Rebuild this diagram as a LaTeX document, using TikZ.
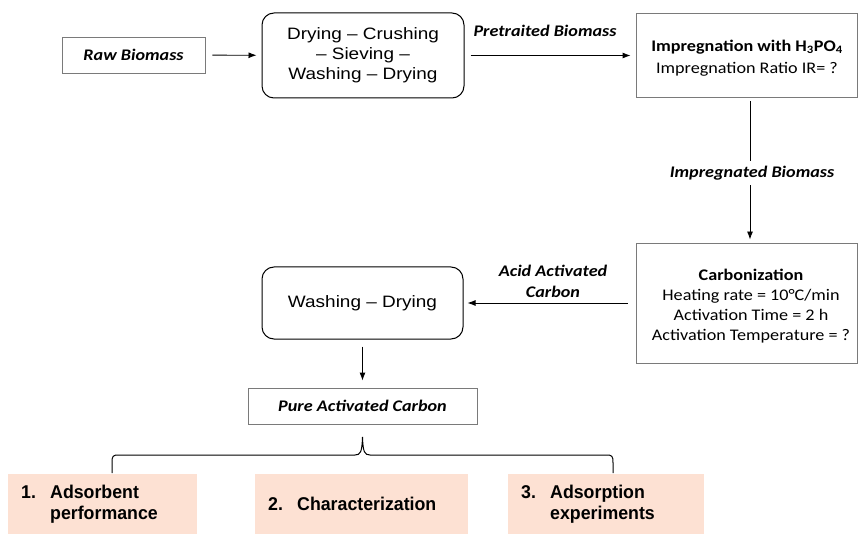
\documentclass[tikz,border=0pt]{standalone}
\usepackage{fontspec}
\usetikzlibrary{arrows.meta}
\newfontfamily\arialf[FakeStretch=1.15]{Liberation Sans}
\newfontfamily\arialn[FakeStretch=0.96]{Liberation Sans}
\newfontfamily\calf[FakeStretch=1.12]{Carlito}
\definecolor{peach}{HTML}{FDE1D3}
\definecolor{boxgray}{HTML}{7A7A7A}
\tikzset{
  sqbox/.style={draw=boxgray, line width=0.9pt, rectangle, inner sep=0pt, align=center},
  txt/.style={inner sep=0pt, align=center},
  rbox/.style={draw=black, line width=1pt, rectangle, rounded corners=12pt, inner sep=0pt, align=center,
    font=\arialf\fontsize{16.5}{20}\selectfont},
  outbox/.style={fill=peach, draw=none, rectangle, inner xsep=13pt, inner ysep=0pt, align=left,
    font=\arialn\bfseries\fontsize{18.5}{21}\selectfont},
  lab/.style={font=\calf\bfseries\itshape\fontsize{16.2}{21}\selectfont, align=center, inner sep=1pt},
  arr/.style={draw=black, line width=0.9pt, -{Latex[length=8pt,width=6pt]}},
  bracepath/.style={draw=black, line width=1pt}
}
\begin{document}
\begin{tikzpicture}[x=1pt,y=-1pt]
\useasboundingbox (0,0) rectangle (858,534);

\node[sqbox, minimum width=143pt, minimum height=36pt, font=\calf\bfseries\itshape\fontsize{16.2}{20}\selectfont]
  (raw) at (133.5,55) {Raw Biomass};
\node[rbox, minimum width=202pt, minimum height=85pt] (prep) at (363,55.5)
  {Drying – Crushing\\ – Sieving –\\ Washing – Drying};
\node[sqbox, minimum width=221pt, minimum height=84pt] (impr) at (746.5,55) {};
\node[txt, font=\calf\fontsize{16.2}{22}\selectfont] (imprt) at (747,58)
  {{\bfseries Impregnation with H\textsubscript{3}PO\textsubscript{4}}\\Impregnation Ratio IR= ?};
\node[sqbox, minimum width=221pt, minimum height=120pt] (carb) at (746.5,303) {};
\node[txt, font=\calf\fontsize{16.2}{20}\selectfont] (carbt) at (751,306)
  {{\bfseries Carbonization}\\Heating rate = 10°C/min\\Activation Time = 2 h\\Activation Temperature = ?};
\node[rbox, minimum width=201pt, minimum height=72pt] (wash) at (362.5,303) {Washing – Drying};
\node[sqbox, minimum width=229pt, minimum height=36pt, font=\calf\bfseries\itshape\fontsize{16.2}{20}\selectfont]
  (pure) at (362.5,406) {Pure Activated Carbon};

\node[outbox, text width=163pt, minimum height=60pt, anchor=north west] (b1) at (8,474)
  {\makebox[29pt][l]{1.}Adsorbent\\\hspace*{29pt}performance};
\node[outbox, text width=187pt, minimum height=60pt, anchor=north west] (b2) at (255,474)
  {\makebox[29pt][l]{2.}Characterization};
\node[outbox, text width=170pt, minimum height=60pt, anchor=north west] (b3) at (508,474)
  {\makebox[29pt][l]{3.}Adsorption\\\hspace*{29pt}experiments};

\draw[arr, shorten <=7pt, shorten >=5pt] (raw) -- (prep);
\draw[arr, shorten <=6pt, shorten >=5pt] (prep.east) -- (impr.west |- prep.east);
\draw[arr, shorten <=4pt, shorten >=3pt] (impr.south -| 750,0) -- (carb.north -| 750,0);
\draw[arr, shorten <=8pt, shorten >=4pt] (carb.west |- wash.east) -- (wash.east);
\draw[arr, shorten <=7pt, shorten >=7pt] (wash.south) -- (pure.north);

\node[lab] (l1) at (545,31) {Pretraited Biomass};
\node[lab, fill=white, inner ysep=5pt] (l2) at (752,173) {Impregnated Biomass};
\node[lab] (l3) at (553,281) {Acid Activated\\Carbon};

\coordinate (bl) at (112,473);
\coordinate (bt) at (362.5,437);
\coordinate (br) at (613,473);
\draw[bracepath] (bl) -- (112,463) .. controls (112,455.5) and (113,455) .. (119,455) -- (355,455)
  .. controls (360.5,455) and (362,452) .. (bt) .. controls (363,452) and (364.5,455) .. (370,455)
  -- (606,455) .. controls (612,455) and (613,455.5) .. (613,463) -- (br);
\end{tikzpicture}
\end{document}
